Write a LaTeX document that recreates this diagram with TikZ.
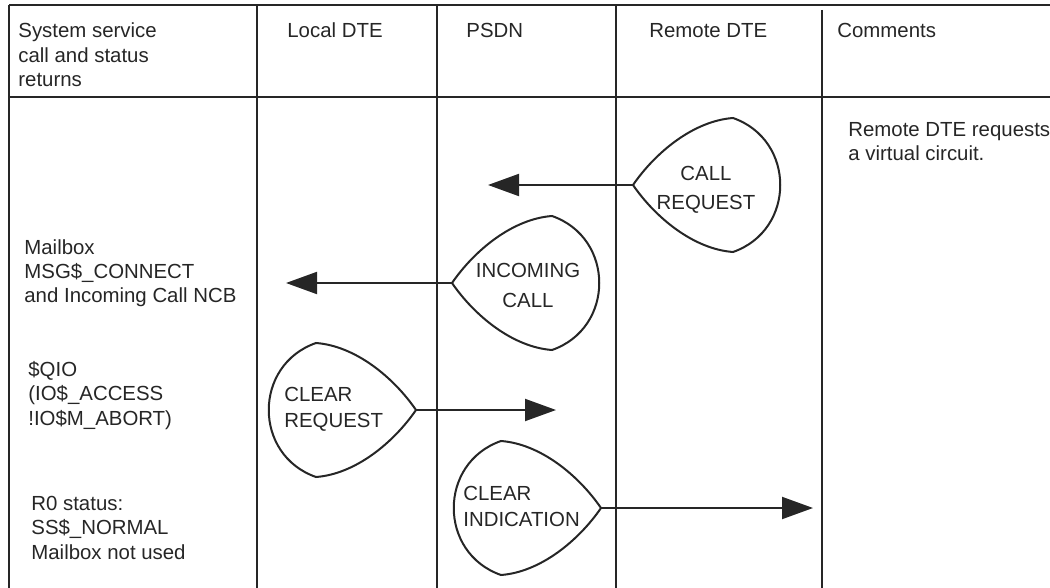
\documentclass[tikz,border=0pt]{standalone}
\usepackage{fontspec}
\setmainfont{Liberation Sans}
\usetikzlibrary{arrows.meta,positioning}

% teardrop outline: tip coordinate, side of the body (1 = right, -1 = left)
\newcommand{\drop}[2]{%
    \begin{scope}[shift={(#1)}, xscale=#2]
        \draw[dropline] (0,0) .. controls (22,-32) and (60,-64) .. (100,-67)
            .. controls (163,-45) and (163,45) .. (100,67)
            .. controls (60,64) and (22,32) .. cycle;
    \end{scope}}

\begin{document}
\begin{tikzpicture}[
    x=0.5pt, y=-0.5pt,
    grid/.style={line width=1pt, draw=black!85},
    txt/.style={anchor=base west, inner sep=0pt, align=left, text=black!85, font=\fontsize{10.2}{12.25}\selectfont},
    droptext/.style={anchor=base, inner sep=0pt, text=black!85, font=\fontsize{10.2}{13}\selectfont},
    dropline/.style={line width=1pt, draw=black!85, line join=miter},
    arrow/.style={-{Triangle[length=15.5pt, width=11pt]}, line width=1pt, draw=black!85}
]
    \useasboundingbox (0,0) rectangle (1050,588);

    % Table rules
    \draw[grid] (9,5) -- (1050,5);
    \draw[grid] (9,97) -- (1050,97);
    \draw[grid] (9,5) -- (9,588);
    \foreach \x in {257,437,616}
        \draw[grid] (\x,5) -- (\x,588);
    \draw[grid] (822,10) -- (822,588);

    % Header (multi-line nodes sit on their last baseline)
    \node[txt] (colsys) at (18,87) {System service\\call and status\\returns};
    \node[txt] (collocal) at (287,37.5) {Local DTE};
    \node[txt] (colpsdn) at (466,37.5) {PSDN};
    \node[txt] (colremote) at (649,37.5) {Remote DTE};
    \node[txt] (colcomm) at (837,37.5) {Comments};

    % System service calls
    \node[txt] (mailbox) at (24,303) {Mailbox\\MSG\$\_CONNECT\\and Incoming Call NCB};
    \node[txt] (qio) at (28,425) {\$QIO\\(IO\$\_ACCESS\\!IO\$M\_ABORT)};
    \node[txt] (status) at (31,559) {R0 status:\\SS\$\_NORMAL\\Mailbox not used};

    % Comments
    \node[txt] (remark) at (848,161) {Remote DTE requests\\a virtual circuit.};

    % Call request
    \coordinate (callreqtip) at (633,185);
    \coordinate (callreqend) at (488,185);
    \drop{callreqtip}{1}
    \node[droptext, align=center, font=\fontsize{10.2}{14.5}\selectfont] (callreq) at (706,210) {CALL\\REQUEST};
    \draw[arrow] (callreqtip) -- (callreqend);

    % Incoming call
    \coordinate (inccalltip) at (452,283);
    \coordinate (inccallend) at (286,283);
    \drop{inccalltip}{1}
    \node[droptext, align=center, font=\fontsize{10.2}{15}\selectfont] (inccall) at (528,307) {INCOMING\\CALL};
    \draw[arrow] (inccalltip) -- (inccallend);

    % Clear request
    \coordinate (clrreqtip) at (416,410);
    \coordinate (clrreqend) at (556,410);
    \drop{clrreqtip}{-1}
    \node[droptext, anchor=base west, align=left] (clrreq) at (284,427) {CLEAR\\REQUEST};
    \draw[arrow] (clrreqtip) -- (clrreqend);

    % Clear indication
    \coordinate (clrindtip) at (601,508);
    \coordinate (clrindend) at (813,508);
    \drop{clrindtip}{-1}
    \node[droptext, anchor=base west, align=left] (clrind) at (463,526) {CLEAR\\INDICATION};
    \draw[arrow] (clrindtip) -- (clrindend);
\end{tikzpicture}
\end{document}
